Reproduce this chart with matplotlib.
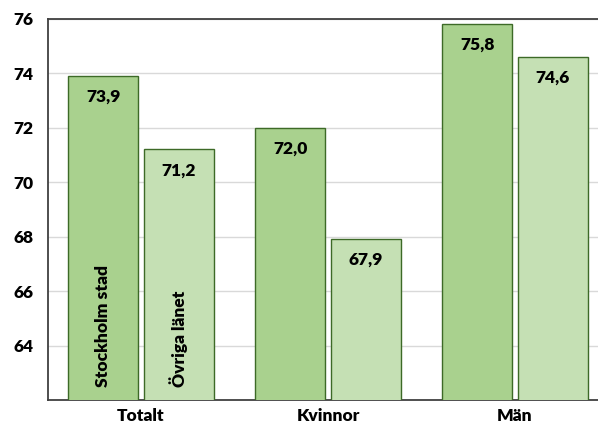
import matplotlib
matplotlib.use("Agg")
import matplotlib.pyplot as plt
import numpy as np

categories = ["Totalt", "Kvinnor", "Män"]
series_names = ["Stockholm stad", "Övriga länet"]
stockholm = [73.9, 72.0, 75.8]
ovriga = [71.2, 67.9, 74.6]
yticks = [64, 66, 68, 70, 72, 74, 76]

plt.rcParams['font.family'] = ['Lato', 'DejaVu Sans']
plt.rcParams['font.weight'] = 'bold'

FS = 12.5
fig = plt.figure(figsize=(5.98, 4.25), dpi=100)
ax = fig.add_axes([47.5/598, 25/425, 561/598, 381.2/425])

x = np.arange(len(categories))
w = 0.374
off = 0.202
c1 = '#a9d18e'
c2 = '#c5e0b4'
ec = '#3d6a27'
b1 = ax.bar(x - off, stockholm, w, bottom=0, color=c1, edgecolor=ec, linewidth=1.0, zorder=3)
b2 = ax.bar(x + off, ovriga, w, bottom=0, color=c2, edgecolor=ec, linewidth=1.0, zorder=3)

ax.set_ylim(62, 76)
ax.set_xlim(-0.5, 2.5)
ax.set_yticks(yticks)
ax.set_yticklabels([str(t) for t in yticks], fontsize=FS, fontweight='heavy')
ax.set_xticks(x)
ax.set_xticklabels(categories, fontsize=FS, fontweight='heavy')
ax.tick_params(axis='both', length=0)
ax.tick_params(axis='y', pad=10)
ax.tick_params(axis='x', pad=6)
ax.grid(axis='y', color='#d9d9d9', linewidth=1.0, zorder=0)
ax.set_axisbelow(True)

for s in ['top', 'left', 'bottom']:
    ax.spines[s].set_color('#404040')
    ax.spines[s].set_linewidth(1.3)
ax.spines['right'].set_visible(False)

def fmt(v):
    return f"{v:.1f}".replace('.', ',')

for bars, vals in [(b1, stockholm), (b2, ovriga)]:
    for r, v in zip(bars, vals):
        ax.annotate(fmt(v), (r.get_x() + r.get_width() / 2, v),
                    xytext=(0, -15), textcoords='offset points',
                    ha='center', va='center', fontsize=FS, fontweight='heavy',
                    zorder=5)

for bars, name in [(b1, series_names[0]), (b2, series_names[1])]:
    r = bars[0]
    ax.annotate(name, (r.get_x() + r.get_width() / 2, 62),
                xytext=(0, 9.5), textcoords='offset points',
                ha='center', va='bottom', rotation=90, fontsize=FS,
                fontweight='heavy', zorder=5)

fig.savefig("out.png", dpi=100)
